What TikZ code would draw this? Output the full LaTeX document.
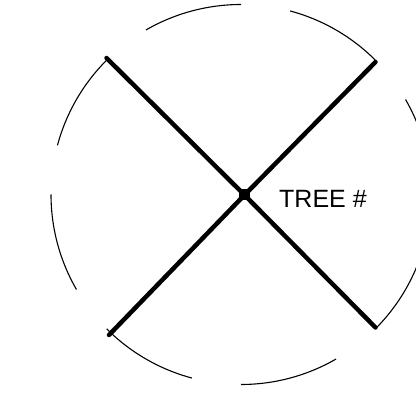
\documentclass[tikz,border=0pt]{standalone}
\usepackage{fontspec}
\setmainfont{Liberation Sans}
\begin{document}
\begin{tikzpicture}[x=1bp,y=1bp,
  rim/.style={line width=1.1bp},
  limb/.style={line width=4.5bp,line cap=round},
  hub/.style={rectangle,fill=black,minimum size=11bp,inner sep=0pt},
  lab/.style={anchor=base west,inner sep=0pt,font=\fontsize{25bp}{29bp}\selectfont}]
\useasboundingbox (0,0) rectangle (416,393);
% dashed outline circle
\foreach \a in {0,45,...,315}{
  \draw[rim] (241,198.5) ++(\a:190) arc[start angle=\a, end angle=\a+30, radius=190];
}
\node[hub] (c) at (244.5,198) {};
\coordinate (tl) at (106.5,335);
\coordinate (tr) at (375.5,331);
\coordinate (bl) at (109,58);
\coordinate (br) at (375.5,65.5);
\draw[limb] (tl) -- (c.center) -- (br);
\draw[limb] (bl) -- (c.center) -- (tr);
\node[lab] (t) at (279,186) {TREE \#};
\end{tikzpicture}
\end{document}
